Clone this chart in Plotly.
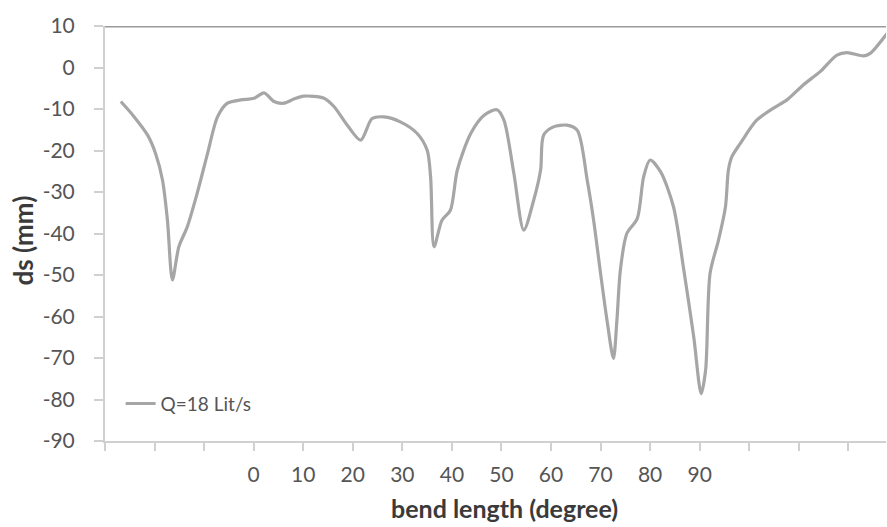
import plotly.graph_objects as go

# bend position (degree) and scour depth ds (mm)
bend_deg = [-26.8, -24.1, -21.4, -19.8, -18.4, -17.4, -16.4, -15.1, -13.4, -11.4,
            -9.3, -7.3, -5.3, -2.6, 0.1, 2.1, 4.1, 6.1, 8.1, 10.1,
            14.2, 16.2, 18.9, 21.6, 23.9, 26.3, 29.6, 33.0, 35.0, 35.7,
            36.4, 38.0, 39.7, 41.1, 43.8, 46.5, 49.1, 50.5, 52.5, 54.5,
            56.5, 57.9, 58.5, 60.5, 63.2, 65.3, 67.3, 68.6, 70.0, 71.3,
            72.6, 73.3, 74.0, 75.3, 77.4, 78.7, 80.0, 82.1, 84.7, 86.8,
            88.8, 90.3, 91.2, 92.1, 93.8, 95.2, 95.8, 96.5, 98.2, 101.5,
            104.9, 107.6, 110.9, 114.3, 117.7, 119.7, 123.1, 124.4, 127.8]
ds_mm = [-8.2, -11.9, -16.3, -20.7, -27.1, -36.8, -51.2, -43.2, -38.4, -30.3,
         -20.7, -11.9, -8.6, -7.8, -7.4, -6.1, -8.2, -8.6, -7.6, -6.9,
         -7.4, -9.4, -13.9, -17.5, -12.3, -11.9, -13.1, -15.9, -19.9, -26.3,
         -43.2, -36.8, -34.4, -24.7, -15.9, -11.5, -10.2, -12.7, -25.5, -39.2,
         -32.0, -24.7, -16.3, -14.3, -13.9, -15.1, -27.1, -36.8, -49.6, -60.9,
         -70.1, -60.9, -48.8, -40.0, -36.4, -26.3, -22.3, -25.1, -33.5, -48.8,
         -64.9, -78.6, -72.9, -49.6, -41.6, -33.6, -24.7, -21.5, -18.3, -12.7,
         -9.8, -7.8, -4.2, -1.0, 3.0, 3.6, 2.8, 3.4, 8.2]

series_name = "Q=18 Lit/s"

x_ticks = [-30, -20, -10, 0, 10, 20, 30, 40, 50, 60, 70, 80, 90, 100, 110, 120]
x_ticktext = ["", "", "", "0", "10", "20", "30", "40", "50", "60", "70", "80", "90", "", "", ""]
y_ticks = [10, 0, -10, -20, -30, -40, -50, -60, -70, -80, -90]
y_ticktext = ["10", "0", "-10", "-20", "-30", "-40", "-50", "-60", "-70", "-80", "-90"]
x_range = [-30, 127.6]
y_range = [-90, 10]

FONT = "Lato"
TICK_COLOR = "#555555"
AXIS_COLOR = "#d0d0d0"

fig = go.Figure()
fig.add_trace(go.Scatter(
    x=bend_deg, y=ds_mm, mode="lines", name=series_name,
    line=dict(color="#a6a6a6", width=3.2, shape="spline", smoothing=0.8),
    showlegend=True,
))

fig.update_layout(
    width=887, height=527,
    margin=dict(l=105, r=1, t=26, b=86),
    paper_bgcolor="white", plot_bgcolor="white",
    font=dict(family=FONT, color=TICK_COLOR),
    showlegend=True,
    legend=dict(x=0.02, y=0.09, xanchor="left", yanchor="middle",
                bgcolor="rgba(0,0,0,0)", font=dict(family=FONT, size=19, color=TICK_COLOR),
                itemwidth=30),
    xaxis=dict(range=x_range, tickvals=x_ticks, ticktext=x_ticktext,
               showgrid=False, zeroline=False, showline=True, linecolor=AXIS_COLOR,
               linewidth=2, ticks="outside", ticklen=8, tickwidth=2, tickcolor=AXIS_COLOR,
               tickfont=dict(family=FONT, size=21, color=TICK_COLOR),
               ticklabelstandoff=6),
    yaxis=dict(range=y_range, tickvals=y_ticks, ticktext=y_ticktext,
               showgrid=False, zeroline=False, showline=True, linecolor=AXIS_COLOR,
               linewidth=2, ticks="outside", ticklen=9, tickwidth=2, tickcolor=AXIS_COLOR,
               tickfont=dict(family=FONT, size=21, color=TICK_COLOR),
               ticklabelstandoff=15),
    shapes=[dict(type="line", xref="paper", x0=0, x1=1, yref="y",
                 y0=y_range[1], y1=y_range[1],
                 line=dict(color="#9a9a9a", width=3))],
    annotations=[
        dict(text="<b>bend length (degree)</b>", xref="paper", yref="paper",
             x=0.512, y=0, yshift=-84, xanchor="center", yanchor="bottom",
             showarrow=False, font=dict(family=FONT, size=25, color="#3a3a3a")),
        dict(text="<b>ds (mm)</b>", xref="paper", yref="paper",
             x=0, xshift=-83, y=0.5, yshift=-7, xanchor="center", yanchor="middle",
             textangle=-90, showarrow=False,
             font=dict(family=FONT, size=26, color="#3a3a3a")),
    ],
)

fig.write_html("out.html")
